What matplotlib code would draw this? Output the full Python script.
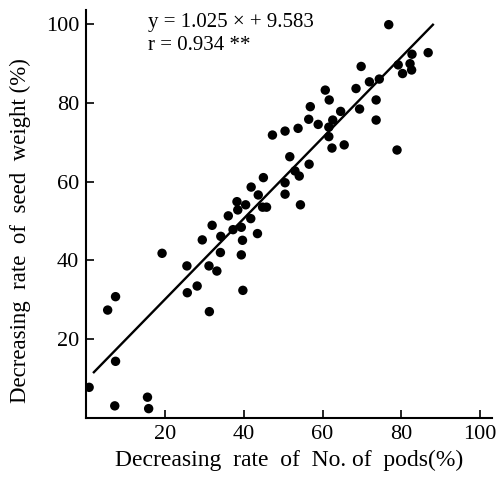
import matplotlib
matplotlib.use('Agg')
import matplotlib.pyplot as plt
import numpy as np

# Rate of decrease (%)
pods = [0.8, 5.5, 7.5, 7.5, 7.3, 15.6, 15.9, 19.3, 25.6, 25.7,
        28.2, 31.2, 31.3, 33.2, 29.5, 32.0, 34.1, 34.2, 36.1, 37.3,
        38.3, 38.5, 39.4, 39.7, 39.4, 39.8, 40.5, 41.8, 41.9, 43.5,
        43.7, 45.0, 44.8, 45.8, 47.3, 50.5, 50.5, 50.5, 51.7, 53.0,
        54.1, 53.8, 54.4, 56.5, 56.6, 56.9, 58.9, 60.7, 61.7, 61.6,
        61.6, 62.4, 62.6, 64.6, 65.5, 68.5, 69.4, 69.8, 71.9, 73.6,
        73.6, 74.4, 76.8, 78.9, 79.2, 80.3, 82.2, 82.6, 82.7, 86.8]
seed_weight = [7.8, 27.4, 30.8, 14.4, 3.1, 5.3, 2.4, 41.8, 38.6, 31.8,
               33.5, 38.6, 27.0, 37.3, 45.2, 48.9, 42.0, 46.1, 51.3, 47.8,
               54.9, 52.8, 48.4, 45.1, 41.4, 32.4, 54.1, 50.6, 58.6, 46.8,
               56.6, 61.0, 53.5, 53.5, 71.8, 72.8, 59.7, 56.8, 66.3, 62.7,
               61.4, 73.5, 54.1, 75.8, 64.4, 79.0, 74.5, 83.2, 80.7, 73.8,
               71.4, 68.5, 75.6, 77.8, 69.3, 83.6, 78.4, 89.2, 85.3, 80.7,
               75.6, 86.0, 99.8, 68.0, 89.6, 87.4, 89.9, 88.3, 92.3, 92.7]

slope, intercept = 1.025, 9.583
line_x = [2, 88]
ticks = [20, 40, 60, 80, 100]

fig = plt.figure(figsize=(4.97, 4.8), dpi=100)
ax = fig.add_axes([0.173, 0.129, 0.817, 0.85])

ax.scatter(pods, seed_weight, s=46, color='black', edgecolors='none', zorder=3)
lx = np.array(line_x)
ax.plot(lx, slope * lx + intercept, color='black', lw=1.7)

ax.set_xlim(0, 103)
ax.set_ylim(0, 103.5)
ax.set_xticks(ticks)
ax.set_yticks(ticks)
ax.tick_params(direction='in', length=6, width=1.2, labelsize=16, pad=5)
for lab in ax.get_xticklabels() + ax.get_yticklabels():
    lab.set_family('Liberation Serif')
ax.spines['top'].set_visible(False)
ax.spines['right'].set_visible(False)
for s in ['left', 'bottom']:
    ax.spines[s].set_linewidth(1.5)

ax.set_xlabel('Decreasing  rate  of  No. of  pods(%)', family='Liberation Serif',
              fontsize=17, labelpad=4)
ax.set_ylabel('Decreasing  rate  of  seed  weight (%)', family='Liberation Serif',
              fontsize=16.5)
ax.yaxis.set_label_coords(-0.135, 0.46)

ax.text(15.7, 100.3, 'y = 1.025 × + 9.583', family='Liberation Serif', fontsize=15, va='center')
ax.text(15.7, 94.4, 'r = 0.934 **', family='Liberation Serif', fontsize=15, va='center')

plt.savefig('out.png', dpi=100)
